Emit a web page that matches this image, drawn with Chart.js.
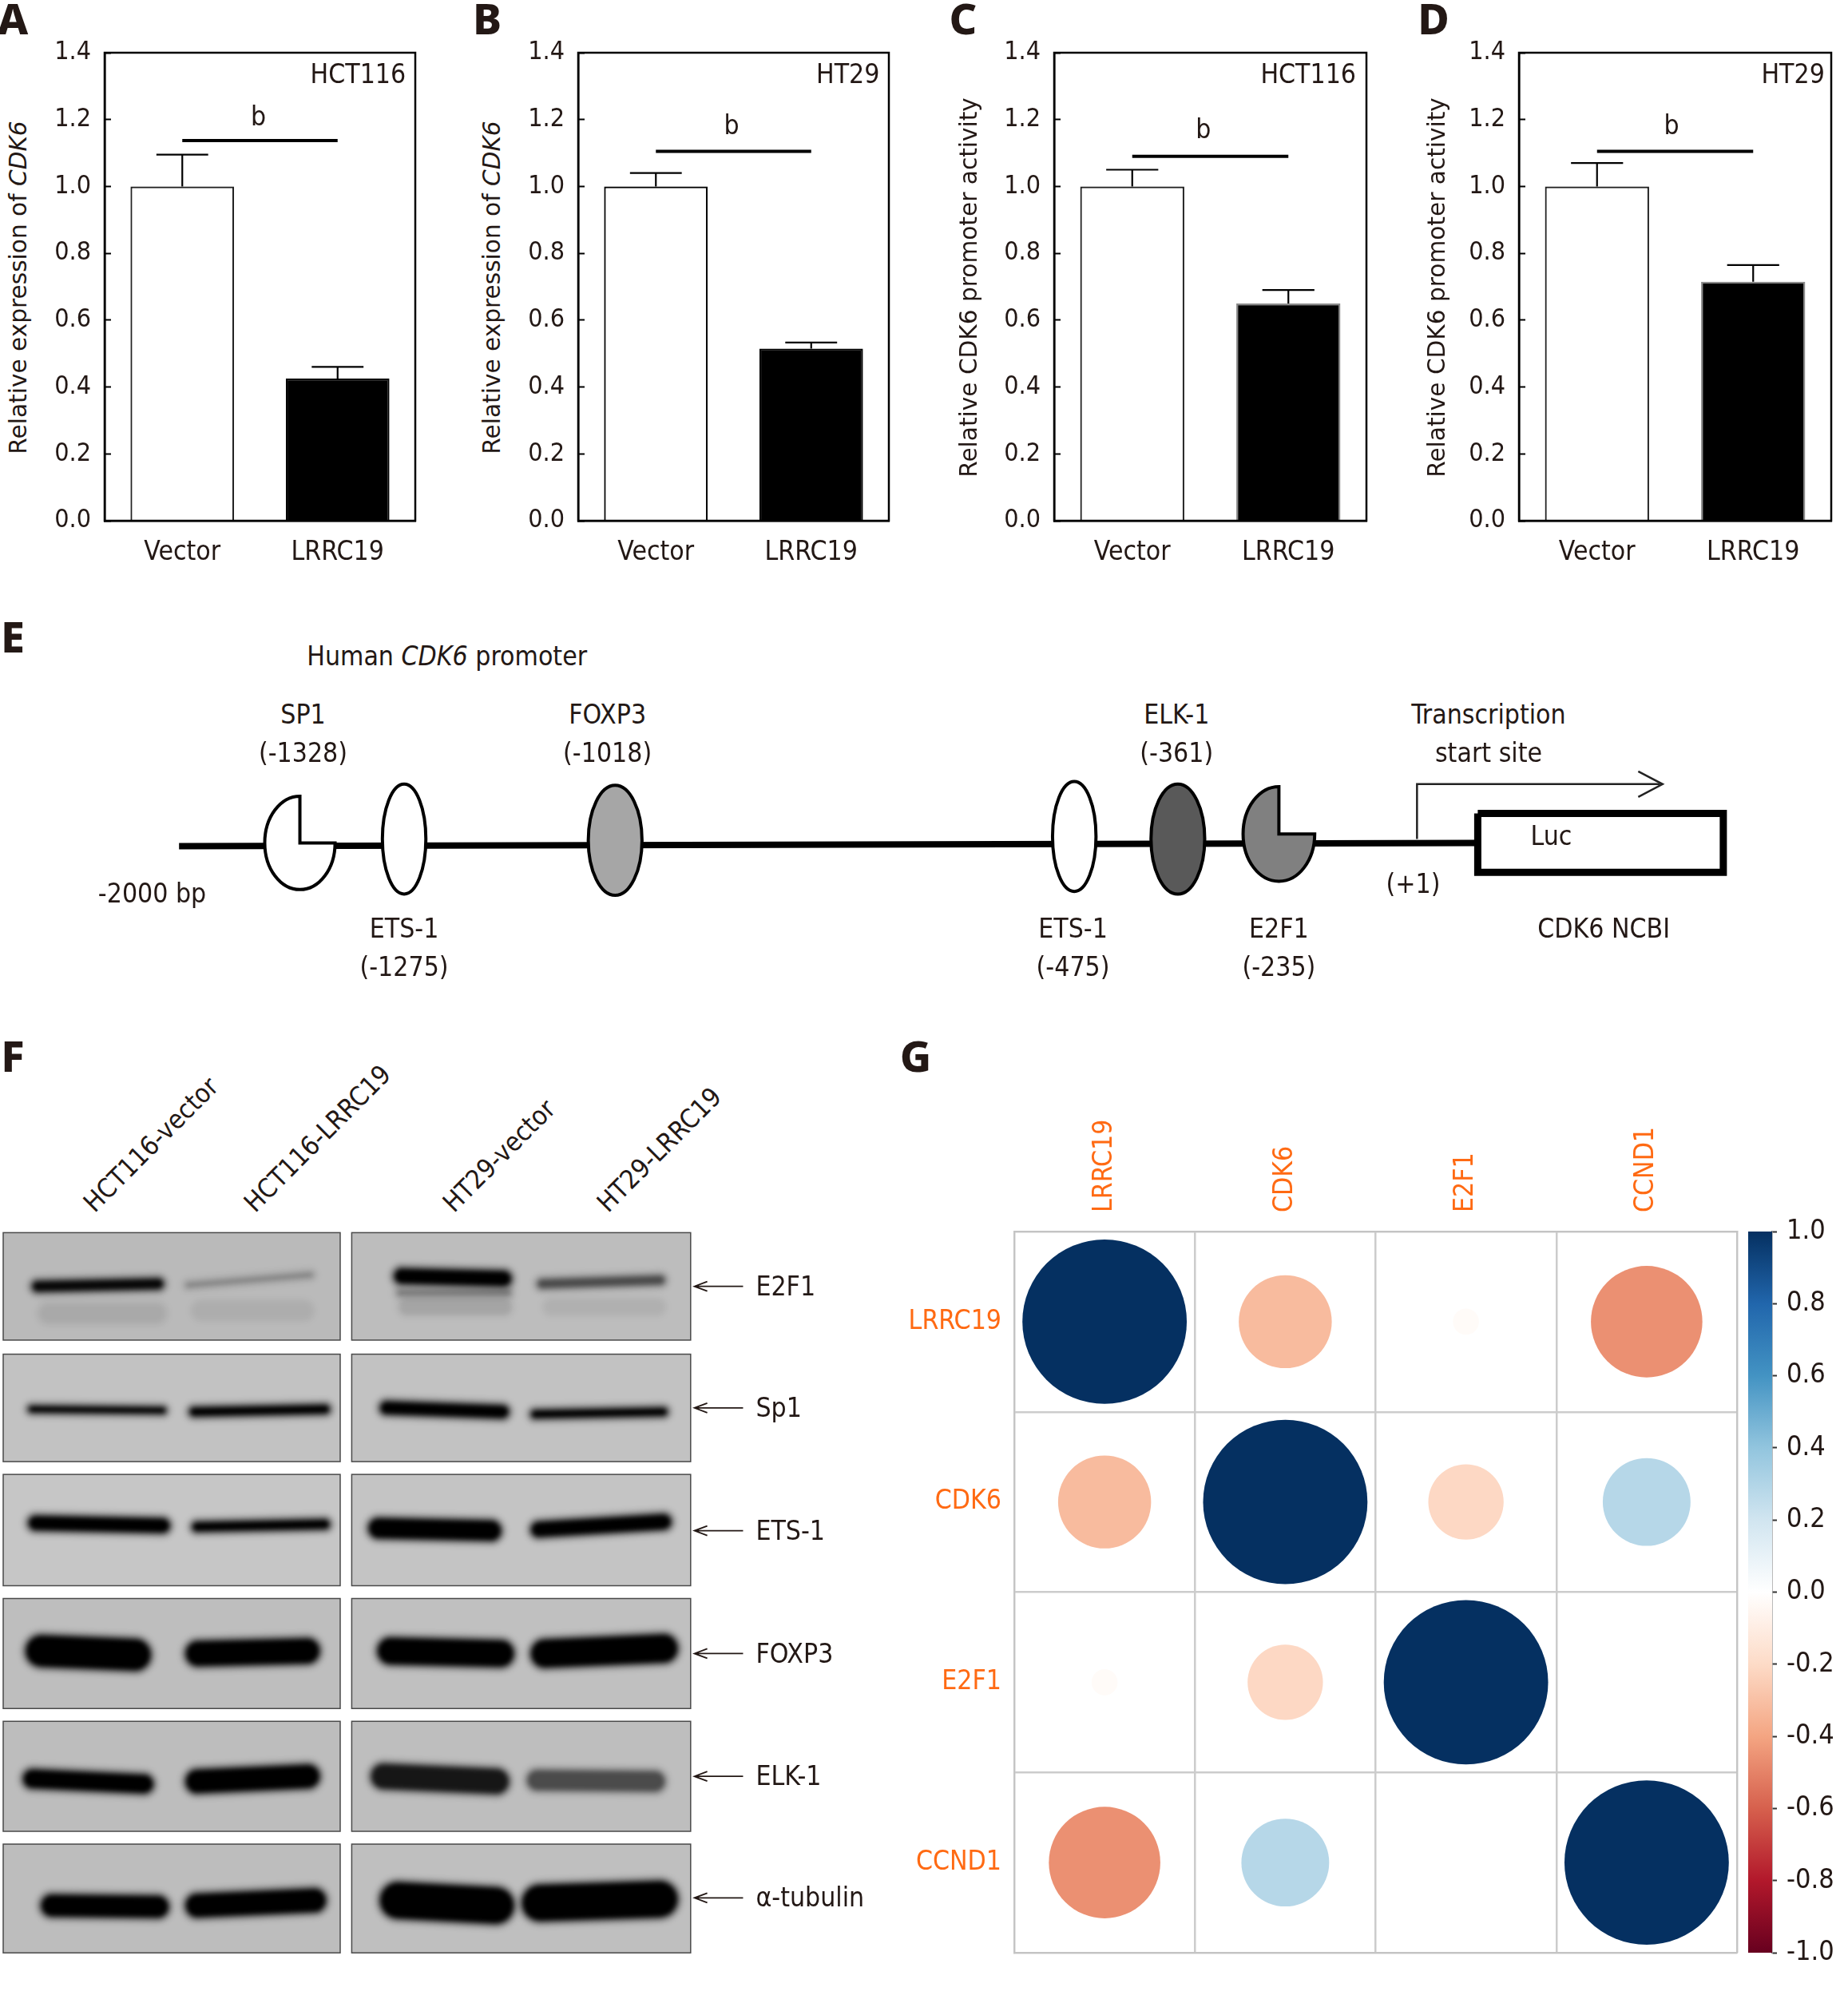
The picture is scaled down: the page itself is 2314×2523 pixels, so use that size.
<!DOCTYPE html>
<html><head><meta charset="utf-8">
<script src="https://cdn.jsdelivr.net/npm/chart.js@4"></script>
<style>
html,body{margin:0;padding:0;background:#fff}
#page{position:relative;width:2314px;height:2523px;overflow:hidden;background:#fff}
canvas{position:absolute}
.t{position:absolute;white-space:nowrap;line-height:1;color:#231815;font-family:"DejaVu Sans Condensed","DejaVu Sans",sans-serif;font-stretch:condensed;font-size:33.5px}
.L{font-family:"Noto Sans",sans-serif;font-weight:800;font-size:54px;font-stretch:normal}
</style></head><body><div id="page"></div>
<script>
// ---------- data ----------
const categories = ['Vector','LRRC19'];
const valuesA = [1.0,0.425], errorTopA = [1.095,0.46], sigA = 1.137;
const valuesB = [1.0,0.515], errorTopB = [1.04,0.533], sigB = 1.105;
const valuesC = [1.0,0.65],  errorTopC = [1.05,0.69],  sigC = 1.09;
const valuesD = [1.0,0.715], errorTopD = [1.07,0.765], sigD = 1.105;
const genes = ['LRRC19','CDK6','E2F1','CCND1'];
const corrRow1 = [1,-0.32,-0.025,-0.46];
const corrRow2 = [-0.32,1,-0.21,0.285];
const corrRow3 = [-0.025,-0.21,1,0];
const corrRow4 = [-0.46,0.285,0,1];
const rdBu = ['#67001F','#B2182B','#D6604D','#F4A582','#FDDBC7','#FFFFFF','#D1E5F0','#92C5DE','#4393C3','#2166AC','#053061'];
const blotRows = ['E2F1','Sp1','ETS-1','FOXP3','ELK-1','α-tubulin'];
const blotShades = ['#bababa','#c2c2c2','#c6c6c6','#bebebe','#bdbdbd','#bdbdbd'];
const blotShadesRight = ['#bdbdbd','#c2c2c2','#c4c4c4','#c0c0c0','#bebebe','#bfbfbf'];
// bands: lane start, lane end, track y at each end, thickness, darkness (the last ones are the faint smears)
const bandStart  = [25,145,308,420, 22,148,297,415, 22,150,288,415, 20,145,295,415, 18,145,290,412, 32,145,297,408, 310, 30,150,312,425];
const bandEnd    = [128,245,400,520, 130,258,398,522, 133,258,392,525, 118,250,402,530, 120,250,398,520, 132,255,402,530, 400, 130,245,400,520];
const bandTrack  = [1006,1005,998,1004, 1102,1104,1101,1106, 1191,1194,1195,1196, 1291,1293,1291,1293, 1391,1393,1389,1392, 1490,1490,1486,1488, 1011, 1027,1025,1022,1022];
const bandTrackB = [1004,997,1000,1001, 1103,1102,1104,1104, 1193,1192,1197,1190, 1294,1291,1293,1289, 1395,1389,1393,1393, 1491,1486,1490,1485, 1011, 1027,1025,1022,1022];
const bandThick  = [14,7,20,12, 9,12,17,11, 19,13,26,20, 40,32,34,36, 24,30,32,26, 28,30,46,46, 8, 26,24,20,20];
const bandDark   = [.95,.25,1,.55, 1,1,1,1, 1,1,1,1, 1,1,1,1, 1,1,.85,.55, 1,1,1,1, .3, .07,.05,.1,.05];
// promoter schematic: sites along the track
const siteNames = ['SP1','ETS-1','FOXP3','ETS-1','ELK-1','E2F1'];
const siteCodes = ['(-1328)','(-1275)','(-1018)','(-475)','(-361)','(-235)'];
const siteTrack = [234.5,316,481,840,921,1000];
const siteShade = ['#ffffff','#ffffff','#a6a6a6','#ffffff','#595959','#808080'];

// ---------- helpers ----------
const S = 2314/1445;
const page = document.getElementById('page');
const FONT = '"DejaVu Sans Condensed","DejaVu Sans",sans-serif';
Chart.defaults.font.family = FONT;
Chart.defaults.font.size = 32;
Chart.defaults.color = '#231815';
Chart.defaults.animation = false;
Chart.defaults.responsive = false;
Chart.defaults.devicePixelRatio = 1;
Chart.defaults.plugins.legend.display = false;
Chart.defaults.plugins.tooltip.enabled = false;
const noPad = s => { s.paddingTop = s.paddingBottom = s.paddingLeft = s.paddingRight = 0; };

function txt(html,x,y,o={}){
  const d=document.createElement('div');d.className='t '+(o.cls||'');d.innerHTML=html;
  d.style.left=(x*S)+'px';d.style.top=(y*S)+'px';
  if(o.size)d.style.fontSize=o.size+'px';
  if(o.font)d.style.fontFamily=o.font;
  if(o.stretch)d.style.fontStretch=o.stretch;
  const ax=o.align==='l'?'0':o.align==='r'?'-100%':'-50%';
  d.style.transform=`translate(${ax},-50%)`+(o.rot?` rotate(${o.rot}deg)`:'');
  if(o.origin){d.style.transformOrigin=o.origin;d.style.transform=`translateY(-100%) rotate(${o.rot}deg)`;}
  page.appendChild(d);return d;
}
function mkCanvas(l,t,w,h){
  const c=document.createElement('canvas');c.width=Math.round(w);c.height=Math.round(h);
  c.style.left=Math.round(l)+'px';c.style.top=Math.round(t)+'px';c.style.width=Math.round(w)+'px';c.style.height=Math.round(h)+'px';
  page.appendChild(c);return c;
}
const frame={id:'frame',afterDraw(ch,a,o){const {ctx,chartArea:c}=ch;ctx.save();ctx.strokeStyle=o.color||'#000';ctx.lineWidth=o.width||2.5;ctx.strokeRect(c.left,c.top,c.right-c.left,c.bottom-c.top);ctx.restore();}};
const errBars={id:'errBars',afterDatasetsDraw(ch,a,o){
  const {ctx}=ch,x=ch.scales.x,y=ch.scales.y,meta=ch.getDatasetMeta(0);
  ctx.save();ctx.strokeStyle='#000';ctx.lineWidth=2.2;
  o.tops.forEach((top,i)=>{const px=x.getPixelForValue(i),y0=y.getPixelForValue(ch.data.datasets[0].data[i]),y1=y.getPixelForValue(top),hw=meta.data[i].width/4;
    ctx.beginPath();ctx.moveTo(px,y0);ctx.lineTo(px,y1);ctx.moveTo(px-hw,y1);ctx.lineTo(px+hw,y1);ctx.stroke();});
  ctx.restore();}};

function barChart(box,values,tops,sig,blackEdge,whiteEdge){
  const l=box[0]*S,r=box[1]*S,t=41*S,b=407*S,LW=90,TP=20,RP=10,BH=60;
  const c=mkCanvas(l-LW,t-TP,r-l+LW+RP,b-t+TP+BH);
  new Chart(c,{type:'bar',data:{labels:categories,datasets:[
    {data:values,backgroundColor:['#fff','#000'],borderColor:[whiteEdge,blackEdge],borderWidth:2.2,barPercentage:.667,categoryPercentage:1,order:2},
    {type:'line',data:[sig,sig],borderColor:'#000',borderWidth:4,pointRadius:0,order:1}]},
   options:{layout:{autoPadding:false,padding:{top:TP,right:RP,left:0,bottom:0}},
    scales:{
     x:{grid:{display:false},border:{color:'#000',width:2.5},ticks:{padding:12,maxRotation:0,font:{size:33.5}},afterFit(s){s.height=BH;noPad(s);}},
     y:{min:0,max:1.4,grid:{drawOnChartArea:false,tickLength:-8,tickColor:'#000',tickWidth:2},border:{color:'#000',width:2.5},
        ticks:{stepSize:.2,padding:25,font:{size:32},callback:v=>(+v).toFixed(1)},afterFit(s){s.width=LW;noPad(s);}}},
    plugins:{errBars:{tops},frame:{}}},plugins:[errBars,frame]});
}
barChart([82,325],valuesA,errorTopA,sigA,'#000','#222');
barChart([452,695],valuesB,errorTopB,sigB,'#000','#000');
barChart([824,1068],valuesC,errorTopC,sigC,'#8a8a8a','#222');
barChart([1188,1432],valuesD,errorTopD,sigD,'#8a8a8a','#222');

const TF='"DejaVu Sans",sans-serif';
txt('Relative expression of <i>CDK6</i>',15,225,{rot:-90,size:29.6,font:TF,stretch:'normal'});
txt('Relative expression of <i>CDK6</i>',385,225,{rot:-90,size:29.6,font:TF,stretch:'normal'});
txt('Relative CDK6 promoter activity',758,225,{rot:-90,size:29.6,font:TF,stretch:'normal'});
txt('Relative CDK6 promoter activity',1124,225,{rot:-90,size:29.6,font:TF,stretch:'normal'});
[['HCT116',280,58],['HT29',663,58],['HCT116',1023,58],['HT29',1402,58],['b',202,91],['b',572,98],['b',941,101],['b',1307,98]].forEach(a=>txt(a[0],a[1],a[2]));
[['A',10,14],['B',381,14],['C',753,14],['D',1121,14],['E',10,497],['F',10,825],['G',716,825]].forEach(a=>txt(a[0],a[1],a[2],{cls:'L'}));

// ---------- panel E ----------
(function(){
  const top=600,bottom=720,W=1445;
  const c=mkCanvas(0,top*S,W*S,(bottom-top)*S);
  const lineDs=(pts,w,col)=>({type:'line',data:pts.map(p=>({x:p[0],y:p[1]})),borderColor:col||'#000',borderWidth:w,pointRadius:0,tension:0,fill:false,borderCapStyle:'butt',borderJoinStyle:'miter'});
  const ell={id:'ell',afterDatasetsDraw(ch){
    const {ctx}=ch,X=ch.scales.x,Y=ch.scales.y;
    const cy=[659,656,657,654,656,652],rx=[27.5,17,21,17,21,28],ry=[36.5,43,43,43,43,37];
    siteTrack.forEach((sx,i)=>{
      const px=X.getPixelForValue(sx),py=Y.getPixelForValue(cy[i]),a=rx[i]*S,b=ry[i]*S;
      ctx.save();ctx.fillStyle=siteShade[i];ctx.strokeStyle='#000';ctx.lineWidth=4;ctx.beginPath();
      if(i===0||i===5){ctx.ellipse(px,py,a,b,0,0,Math.PI*1.5);ctx.lineTo(px,py);ctx.closePath();}
      else ctx.ellipse(px,py,a,b,0,0,Math.PI*2);
      ctx.fill();ctx.stroke();ctx.restore();
    });
  }};
  new Chart(c,{type:'scatter',data:{datasets:[
    lineDs([[140,661.5],[600,660.5],[1153,659]],8),
    lineDs([[1108,656],[1108,613],[1298,613]],2.5,'#222'),
    lineDs([[1281,603],[1300,613],[1281,623]],2.5,'#222'),
    lineDs([[1155.5,636],[1347.5,636],[1347.5,682],[1155.5,682],[1155.5,636]],9)
  ]},options:{layout:{autoPadding:false,padding:0},
    scales:{x:{type:'linear',min:0,max:W,display:false},y:{min:top,max:bottom,reverse:true,display:false}},
    plugins:{}},plugins:[ell]});
  txt('Human <i>CDK6</i> promoter',349.5,513);
  const labelX=[237,316,475,839,920,1000],up=[true,false,true,false,true,false];
  siteNames.forEach((n,i)=>{const y=up[i]?559:726;txt(n,labelX[i],y);txt(siteCodes[i],labelX[i],y+30);});
  txt('Transcription',1164,559);txt('start site',1164,589);
  txt('CDK6 NCBI',1254,726);txt('-2000 bp',119,699);txt('(+1)',1105,691);txt('Luc',1213,654);
})();

// ---------- panel F ----------
(function(){
  const top=955,bottom=1535,W=680;
  const c=mkCanvas(0,top*S,W*S,(bottom-top)*S);
  const rowT=[964,1059,1153,1250,1346,1442],rowB=[1048,1143,1240,1336,1432,1527],rowY=[1006,1101,1197,1293,1389,1484];
  const bg={id:'bg',beforeDatasetsDraw(ch){
    const {ctx}=ch,X=ch.scales.x,Y=ch.scales.y;
    ctx.save();
    blotRows.forEach((r,i)=>{
      [[2.5,266,blotShades[i]],[275,540,blotShadesRight[i]]].forEach(p=>{
        const x=X.getPixelForValue(p[0]),x2=X.getPixelForValue(p[1]),y=Y.getPixelForValue(rowT[i]),y2=Y.getPixelForValue(rowB[i]);
        ctx.fillStyle=p[2];ctx.fillRect(x,y,x2-x,y2-y);ctx.strokeStyle='#4a4a4a';ctx.lineWidth=1.5;ctx.strokeRect(x,y,x2-x,y2-y);
      });
    });
    ctx.restore();
    ctx.save();ctx.filter='blur(3px)';
  },afterDatasetsDraw(ch){
    const {ctx}=ch,X=ch.scales.x,Y=ch.scales.y;
    ctx.restore();
    ctx.save();ctx.strokeStyle='#231815';ctx.lineWidth=1.8;
    rowY.forEach(v=>{
      const x1=X.getPixelForValue(543),x2=X.getPixelForValue(581),y=Y.getPixelForValue(v);
      ctx.beginPath();ctx.moveTo(x2,y);ctx.lineTo(x1,y);ctx.moveTo(x1+16,y-6);ctx.lineTo(x1,y);ctx.lineTo(x1+16,y+6);ctx.stroke();
    });
    ctx.restore();
  }};
  // the round caps add half a stroke at each end, so the stroke is inset by that much
  const band=(i,extra,alpha)=>{const inset=bandThick[i]/2/S;return {type:'line',data:[{x:bandStart[i]+inset,y:bandTrack[i]},{x:bandEnd[i]-inset,y:bandTrackB[i]}],borderColor:`rgba(0,0,0,${alpha})`,borderWidth:bandThick[i]+extra,borderCapStyle:'round',pointRadius:0};};
  const ds=[...bandStart.map((s,i)=>band(i,12,bandDark[i]*0.22)),...bandStart.map((s,i)=>band(i,0,bandDark[i]))];
  new Chart(c,{type:'scatter',data:{datasets:ds},options:{layout:{autoPadding:false,padding:0},
    scales:{x:{type:'linear',min:0,max:W,display:false},y:{min:top,max:bottom,reverse:true,display:false}}},plugins:[bg]});
  blotRows.forEach((r,i)=>txt(r,591,rowY[i],{align:'l'}));
  [['HCT116-vector',76,951],['HCT116-LRRC19',202,951],['HT29-vector',357,951],['HT29-LRRC19',478,951]].forEach(a=>{
    txt(a[0],a[1],a[2],{rot:-45,origin:'left bottom',align:'l',size:33});
  });
})();

// ---------- panel G ----------
function hexToRgb(h){return [1,3,5].map(i=>parseInt(h.substr(i,2),16));}
function corrColor(v){const t=(v+1)/2*(rdBu.length-1),i=Math.min(Math.floor(t),rdBu.length-2),f=t-i,a=hexToRgb(rdBu[i]),b=hexToRgb(rdBu[i+1]);
  return `rgb(${a.map((c,k)=>Math.round(c+(b[k]-c)*f)).join(',')})`;}
(function(){
  const l=793*S,r=1358*S,t=963*S,b=1527*S,LW=150,TH=170;
  const c=mkCanvas(l-LW,t-TH,r-l+LW+4,b-t+TH+4);
  const maxR=(r-l)/4*0.455;
  const pts=[];const rows=[corrRow1,corrRow2,corrRow3,corrRow4];
  rows.forEach((row,ri)=>row.forEach((v,ci)=>pts.push({x:genes[ci],y:genes[ri],r:maxR*Math.sqrt(Math.abs(v)),v})));
  const ORANGE='#FF6A13';
  new Chart(c,{type:'bubble',data:{datasets:[{data:pts,backgroundColor:ctx=>corrColor(ctx.raw?ctx.raw.v:0),borderWidth:0,hoverBorderWidth:0}]},
   options:{layout:{autoPadding:false,padding:{left:0,top:0,right:4,bottom:4}},clip:false,
    scales:{
     x:{type:'category',labels:genes,position:'top',offset:true,grid:{offset:true,color:'#cccccc',lineWidth:2.5,drawTicks:false},border:{color:'#c4c4c4',width:2},
        ticks:{color:ORANGE,font:{size:33.5},maxRotation:90,minRotation:90,padding:24,labelOffset:40,autoSkip:false},afterFit(s){s.height=TH;noPad(s);}},
     y:{type:'category',labels:genes,offset:true,reverse:false,grid:{offset:true,color:'#cccccc',lineWidth:2.5,drawTicks:false},border:{color:'#c4c4c4',width:2},
        ticks:{color:ORANGE,font:{size:33.5},padding:16,autoSkip:false},afterFit(s){s.width=LW;noPad(s);}}},
    plugins:{frame:{color:'#c4c4c4',width:2}}},plugins:[frame]});
  // colour bar
  const cl=1367*S,cr=1386*S,TP=30,RW=105;
  const cb=mkCanvas(cl,t-TP,cr-cl+RW,b-t+TP*2);
  const grad={id:'grad',beforeDatasetsDraw(ch){const {ctx,chartArea:a}=ch;const g=ctx.createLinearGradient(0,a.bottom,0,a.top);
    rdBu.forEach((col,i)=>g.addColorStop(i/(rdBu.length-1),col));ctx.save();ctx.fillStyle=g;ctx.fillRect(a.left,a.top,a.right-a.left,a.bottom-a.top);ctx.restore();}};
  new Chart(cb,{type:'scatter',data:{datasets:[{data:[]}]},options:{layout:{autoPadding:false,padding:{top:TP,bottom:TP,left:0,right:0}},
    scales:{x:{display:false},
      y:{position:'right',min:-1,max:1,grid:{drawOnChartArea:false,tickLength:6,tickColor:'#333',tickWidth:2},border:{color:'#777',width:1.5},
         ticks:{stepSize:.2,padding:12,font:{size:34},callback:v=>(Math.abs(v)<1e-9?0:+v).toFixed(1)},afterFit(s){s.width=RW;noPad(s);}}}},plugins:[grad]});
})();
</script></body></html>
